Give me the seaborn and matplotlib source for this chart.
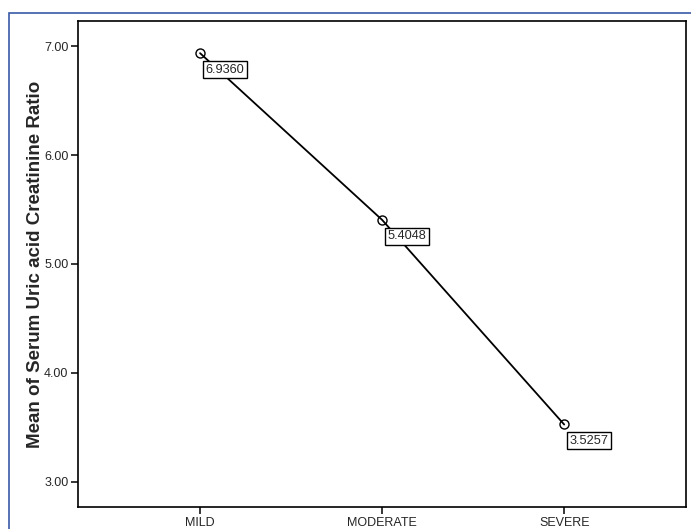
import numpy as np
import pandas as pd
import matplotlib
matplotlib.use("Agg")
import matplotlib.pyplot as plt
import seaborn as sns
from matplotlib.patches import Rectangle

# data
severity = ["MILD", "MODERATE", "SEVERE"]
mean_ratio = [6.9360, 5.4048, 3.5257]
y_ticks = [3.00, 4.00, 5.00, 6.00, 7.00]

sns.set_style("white")
plt.rcParams['font.family'] = ['Liberation Sans', 'DejaVu Sans']

df = pd.DataFrame({"severity": severity, "ratio": mean_ratio})

fig = plt.figure(figsize=(6.91, 5.29), dpi=100)
ax = fig.add_axes([0.113, 0.042, 0.880, 0.918])

sns.pointplot(data=df, x="severity", y="ratio", color="black", markers="o",
              markersize=6.5, markerfacecolor="none", markeredgewidth=1.0,
              linewidth=1.3, ax=ax)

# value labels in boxes, just below-right of each point
for i, v in enumerate(mean_ratio):
    ax.annotate(f"{v:.4f}", xy=(i, v), xytext=(4, -7.5), textcoords="offset points",
                ha="left", va="top", fontsize=9.2,
                bbox=dict(boxstyle="square,pad=0.2", fc="white", ec="black", lw=1.0))

ax.set_xlim(-0.67, 2.67)
ax.set_ylim(2.77, 7.23)
ax.set_yticks(y_ticks)
ax.set_yticklabels([f"{t:.2f}" for t in y_ticks])
ax.set_xlabel("")
ax.set_ylabel("Mean of Serum Uric acid Creatinine Ratio", fontsize=13.5, fontweight="bold",
              labelpad=0)

for s in ax.spines.values():
    s.set_visible(True)
    s.set_color("black")
    s.set_linewidth(1.2)
ax.tick_params(axis="both", which="major", direction="out", length=5, width=1.1,
               color="black", labelsize=9, bottom=True, left=True, pad=2)
ax.tick_params(axis="x", pad=2.5)

# thin blue frame around the figure (bottom and right edges fall outside)
fig.patches.append(Rectangle((0.013, -0.05), 1.2, 1.0254,
                             transform=fig.transFigure, fill=False,
                             ec="#3a5aa8", lw=1.2))

fig.savefig("out.png", dpi=100)
